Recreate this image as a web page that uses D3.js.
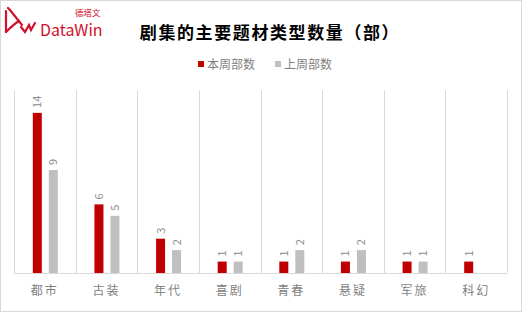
<!DOCTYPE html>
<html>
<head>
<meta charset="utf-8">
<script src="https://cdn.jsdelivr.net/npm/d3@7"></script>
<style>
  body { margin: 0; background: #fff; }
  text { font-family: "Noto Sans CJK SC", "Noto Sans", sans-serif; }
</style>
</head>
<body>
<div id="app"></div>
<script>
// data
let categories = ["都市", "古装", "年代", "喜剧", "青春", "悬疑", "军旅", "科幻"]
let thisWeek = [14, 6, 3, 1, 1, 1, 1, 1]
let lastWeek = [9, 5, 2, 1, 2, 2, 1, null]
let seriesNames = ["本周部数", "上周部数"]
let colors = ["#c00000", "#bfbfbf"]

let W = 523, H = 312
let margin = {top: 90, right: 16, bottom: 39, left: 14}
let width = W - margin.left - margin.right
let height = H - margin.top - margin.bottom

let svg = d3.select("#app").append("svg")
    .attr("width", W)
    .attr("height", H)

// outer frame
svg.append("rect")
    .attr("x", 0.5).attr("y", 0.5)
    .attr("width", W - 2).attr("height", H - 1)
    .attr("fill", "#fff")
    .attr("stroke", "#d9d9d9")

// logo (rough sketch of the mark)
let logo = svg.append("g").attr("fill", "none").attr("stroke", "#d0112b")
    .attr("stroke-width", 2.2).attr("stroke-linecap", "round")
logo.append("path").attr("d", "M6,11 L6,32")
logo.append("path").attr("d", "M8,8 L10,10 L22,25")
logo.append("path").attr("d", "M6,32 C10,28 14,24 19,21")
logo.append("path").attr("d", "M21,27 L25,32 L29,25 L31,30 L35,23")
svg.append("text").attr("x", 40).attr("y", 36)
    .attr("font-size", 16).attr("fill", "#d0112b")
    .attr("font-family", "Roboto, sans-serif")
    .text("DataWin")
svg.append("text").attr("x", 75).attr("y", 16)
    .attr("font-size", 8.5).attr("fill", "#d0112b")
    .text("德塔文")

// title
svg.append("text")
    .attr("x", 270).attr("y", 39)
    .attr("text-anchor", "middle")
    .attr("font-size", 17).attr("font-weight", "bold")
    .attr("letter-spacing", 1.6)
    .attr("fill", "#000")
    .text("剧集的主要题材类型数量（部）")

// legend
let legendX = [198, 275]
seriesNames.forEach((name, i) => {
    svg.append("rect")
        .attr("x", legendX[i]).attr("y", 61)
        .attr("width", 6).attr("height", 6)
        .attr("fill", colors[i])
    svg.append("text")
        .attr("x", legendX[i] + 9).attr("y", 69)
        .attr("font-size", 12).attr("fill", "#7f7f7f")
        .text(name)
})

let g = svg.append("g").attr("transform", "translate(" + margin.left + "," + margin.top + ")")

let x = d3.scaleBand().domain(categories).range([0, width])
let y = d3.scaleLinear().domain([0, 16]).range([height, 0])

// vertical separators
g.selectAll(".sep")
    .data(d3.range(categories.length + 1))
    .enter().append("line")
    .attr("x1", i => Math.round(i * x.bandwidth()) + 0.5)
    .attr("x2", i => Math.round(i * x.bandwidth()) + 0.5)
    .attr("y1", 0).attr("y2", height)
    .attr("stroke", "#d9d9d9")

// baseline
g.append("line")
    .attr("x1", 0).attr("x2", width)
    .attr("y1", height + 0.5).attr("y2", height + 0.5)
    .attr("stroke", "#d9d9d9")

let barW = 9
let offsets = [-12, 4]

let rows = []
categories.forEach((c, i) => {
    rows.push({cat: c, s: 0, v: thisWeek[i]})
    if (lastWeek[i] != null) rows.push({cat: c, s: 1, v: lastWeek[i]})
})

g.selectAll(".bar")
    .data(rows)
    .enter().append("rect")
    .attr("class", "bar")
    .attr("x", d => x(d.cat) + x.bandwidth() / 2 + offsets[d.s])
    .attr("y", d => y(d.v))
    .attr("width", barW)
    .attr("height", d => height - y(d.v))
    .attr("fill", d => colors[d.s])

// value labels, rotated
g.selectAll(".val")
    .data(rows)
    .enter().append("text")
    .attr("transform", d => "translate(" + (x(d.cat) + x.bandwidth() / 2 + offsets[d.s] + barW / 2 + 4) + "," + (y(d.v) - 5) + ") rotate(-90)")
    .attr("font-size", 11).attr("fill", "#8c8c8c")
    .attr("font-family", "Liberation Sans, sans-serif")
    .text(d => d.v)

// category axis
let xAxis = g.append("g")
    .attr("transform", "translate(0," + height + ")")
    .call(d3.axisBottom(x).tickSize(0).tickPadding(13))
xAxis.select(".domain").remove()
xAxis.selectAll("text")
    .attr("font-size", 12).attr("fill", "#7f7f7f")
    .attr("letter-spacing", 2)
    .attr("font-family", "Noto Sans CJK SC, sans-serif")
</script>
</body>
</html>
